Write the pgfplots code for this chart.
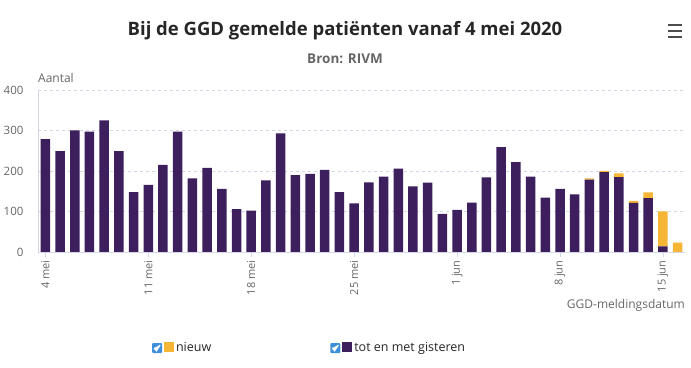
\documentclass[border=0pt]{standalone}
\usepackage{fontspec}
\setmainfont{Open Sans}
\usepackage{pgfplots}
\usepackage{pgfplotstable}
\pgfplotsset{compat=1.18}
\definecolor{purp}{HTML}{3C1F5C}
\definecolor{oran}{HTML}{F7B536}
\definecolor{gridc}{HTML}{D3D6E8}
\definecolor{txt}{HTML}{666666}
\definecolor{cbx}{HTML}{3D8FD9}
\pgfplotstableread{
idx old new
0 279 0
1 249 0
2 300 0
3 297 0
4 325 0
5 249 0
6 148 0
7 166 0
8 215 0
9 297 0
10 182 0
11 208 0
12 156 0
13 106 0
14 102 0
15 177 0
16 293 0
17 190 0
18 193 0
19 203 0
20 148 0
21 120 0
22 172 0
23 186 0
24 206 0
25 162 0
26 171 0
27 94 0
28 104 0
29 122 0
30 184 0
31 259 0
32 222 0
33 186 0
34 134 0
35 156 0
36 142 0
37 179 3
38 197 3
39 185 9
40 121 5
41 133 14
42 14 86
43 0 23
}\ggd
\begin{document}
\begin{tikzpicture}[x=1pt,y=1pt]
\path[use as bounding box] (0,0) rectangle (691,367);
\node[font=\fontsize{18.5}{20}\selectfont\bfseries, text=black!85] at (345,336) {Bij de GGD gemelde patiënten vanaf 4 mei 2020};
\node[font=\fontsize{13.5}{15}\selectfont\bfseries, text=txt] at (345,308) {Bron: RIVM};
\foreach \yy in {330,336,342} {\draw[black!70, line width=2pt] (668,\yy) -- (682,\yy);}
\begin{axis}[
  at={(38pt,115pt)}, anchor=south west,
  scale only axis, width=647pt, height=162pt,
  ybar stacked, bar width=9.5pt,
  xmin=-0.5, xmax=43.5, ymin=0, ymax=400,
  axis lines*=left,
  axis line style={draw=gridc},
  xtick={0,7,14,21,28,35,42},
  xticklabels={4 mei,11 mei,18 mei,25 mei,1 jun,8 jun,15 jun},
  ytick={0,100,200,300,400},
  /pgf/number format/assume math mode=true,
  ymajorgrids, grid style={dashed, gridc},
  tick align=outside,
  major tick length=5pt,
  x tick style={draw=gridc},
  y tick style={draw=none},
  x tick label style={rotate=90, anchor=east, font=\fontsize{11}{12}\selectfont, text=txt},
  y tick label style={font=\fontsize{11.5}{12}\selectfont, text=txt, xshift=-6pt},
  ylabel={Aantal},
  ylabel style={at={(axis description cs:0,1.074)}, anchor=west, rotate=-90, font=\fontsize{12}{14}\selectfont, text=txt, inner sep=0pt},
  xlabel={GGD-meldingsdatum},
  xlabel style={at={(axis description cs:1,-0.327)}, anchor=east, font=\fontsize{12}{14}\selectfont, text=txt, inner sep=0pt},
  legend style={at={(axis description cs:0.176,-0.593)}, anchor=west, draw=none, fill=none,
    font=\fontsize{12.5}{14}\selectfont, text=black!85, inner sep=0pt,
    /tikz/every even column/.append style={column sep=117pt}},
  legend columns=2, legend cell align=left, reverse legend,
]
\addplot[fill=purp, draw=none, legend image code/.code={
  \fill[cbx, rounded corners=1pt] (0pt,-5pt) rectangle (10pt,5pt);
  \draw[white, line width=1.3pt] (2pt,0pt) -- (4.3pt,-2.6pt) -- (8pt,3pt);
  \fill[purp] (12pt,-4pt) rectangle (22pt,6pt);}] table[x=idx,y=old] {\ggd};
\addlegendentry{tot en met gisteren}
\addplot[fill=oran, draw=none, legend image code/.code={
  \fill[cbx, rounded corners=1pt] (0pt,-5pt) rectangle (10pt,5pt);
  \draw[white, line width=1.3pt] (2pt,0pt) -- (4.3pt,-2.6pt) -- (8pt,3pt);
  \fill[oran] (12pt,-4pt) rectangle (22pt,6pt);}] table[x=idx,y=new] {\ggd};
\addlegendentry{nieuw}
\end{axis}
\end{tikzpicture}
\end{document}
